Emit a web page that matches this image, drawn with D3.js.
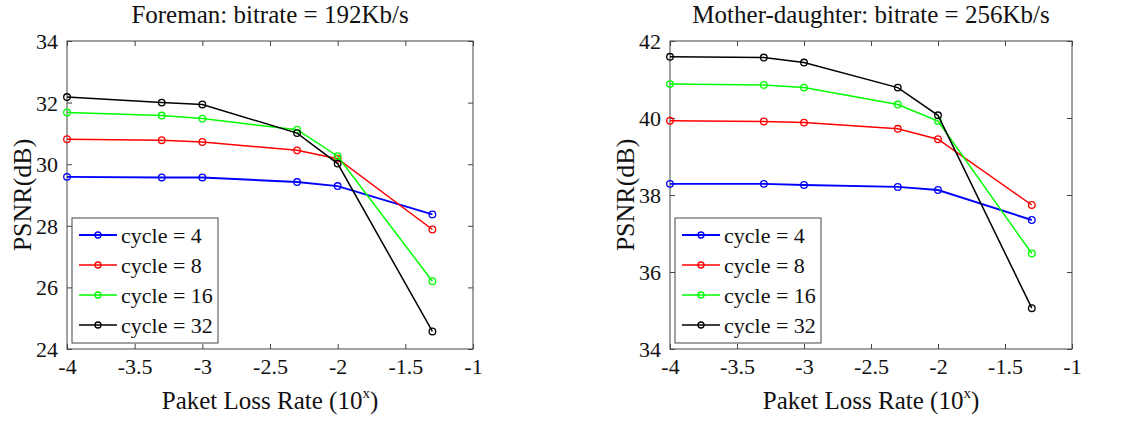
<!DOCTYPE html>
<html><head><meta charset="utf-8">
<script src="https://cdn.jsdelivr.net/npm/d3@7"></script>
<style>
html,body{margin:0;padding:0;background:#fff;}
svg text{font-family:"Liberation Serif","Times New Roman",serif !important;fill:#111;}
</style></head>
<body><svg id="c" width="1125" height="423"></svg>
<script>
const lossRates = [-4, -3.3, -3, -2.3, -2, -1.3];
const xTicks = [-4, -3.5, -3, -2.5, -2, -1.5, -1];
const seriesNames = ["cycle = 4", "cycle = 8", "cycle = 16", "cycle = 32"];
const seriesColors = ["#0000ff", "#ff0000", "#00ff00", "#000000"];

const foremanTitle = "Foreman: bitrate = 192Kb/s";
const foremanYTicks = [24, 26, 28, 30, 32, 34];
const foremanCycle4  = [29.59, 29.57, 29.57, 29.42, 29.29, 28.37];
const foremanCycle8  = [30.81, 30.78, 30.72, 30.45, 30.18, 27.88];
const foremanCycle16 = [31.68, 31.58, 31.48, 31.12, 30.26, 26.20];
const foremanCycle32 = [32.18, 32.00, 31.94, 31.01, 30.02, 24.57];

const motherTitle = "Mother-daughter: bitrate = 256Kb/s";
const motherYTicks = [34, 36, 38, 40, 42];
const motherCycle4  = [38.29, 38.29, 38.26, 38.21, 38.13, 37.35];
const motherCycle8  = [39.93, 39.91, 39.88, 39.72, 39.45, 37.74];
const motherCycle16 = [40.88, 40.86, 40.79, 40.35, 39.92, 36.48];
const motherCycle32 = [41.59, 41.57, 41.44, 40.79, 40.07, 35.06];

const svg = d3.select("#c");
const serif = "'Liberation Serif', 'Times New Roman', serif";

function panel(cfg) {
  const {left, right, top, bottom, yDomain, yTicks, title, series} = cfg;
  const x = d3.scaleLinear().domain([-4, -1]).range([left, right]);
  const y = d3.scaleLinear().domain(yDomain).range([bottom, top]);
  const g = svg.append("g");
  const tl = 5;
  const axisColor = "#444";

  g.append("rect").attr("x", left).attr("y", top).attr("width", right - left).attr("height", bottom - top)
    .attr("fill", "none").attr("stroke", axisColor).attr("stroke-width", 1);

  const xb = g.append("g").attr("transform", `translate(0,${bottom})`)
    .call(d3.axisBottom(x).tickValues(xTicks).tickSize(-tl).tickPadding(8).tickFormat(d => String(d)));
  const xt = g.append("g").attr("transform", `translate(0,${top})`)
    .call(d3.axisTop(x).tickValues(xTicks).tickSize(-tl).tickFormat(""));
  const yl = g.append("g").attr("transform", `translate(${left},0)`)
    .call(d3.axisLeft(y).tickValues(yTicks).tickSize(-tl).tickPadding(9).tickFormat(d => String(d)));
  const yr = g.append("g").attr("transform", `translate(${right},0)`)
    .call(d3.axisRight(y).tickValues(yTicks).tickSize(-tl).tickFormat(""));
  [xb, xt, yl, yr].forEach(a => {
    a.attr("font-family", null).attr("font-size", null);
    a.select(".domain").remove();
    a.selectAll(".tick line").attr("stroke", axisColor);
    a.selectAll(".tick text").style("font-family", serif).style("font-size", "22px").attr("fill", "#111");
  });
  yl.selectAll(".tick text").attr("dy", "0.34em");
  xb.selectAll(".tick text").attr("dy", "0.75em");

  const line = d3.line().x((d, i) => x(lossRates[i])).y(d => y(d));
  series.forEach((s, k) => {
    g.append("path").datum(s).attr("d", line).attr("fill", "none")
      .attr("stroke", seriesColors[k]).attr("stroke-width", k === 0 ? 1.9 : 1.5);
    g.selectAll(null).data(s).enter().append("circle")
      .attr("cx", (d, i) => x(lossRates[i])).attr("cy", d => y(d)).attr("r", 3.3)
      .attr("fill", "none").attr("stroke", seriesColors[k]).attr("stroke-width", 1.3);
  });

  g.append("text").attr("x", (left + right) / 2).attr("y", 23).attr("text-anchor", "middle")
    .style("font-size", "25px").text(title);

  const xl = g.append("text").attr("x", (left + right) / 2).attr("y", 409).attr("text-anchor", "middle")
    .style("font-size", "25px");
  xl.append("tspan").text("Paket Loss Rate (10");
  xl.append("tspan").style("font-size", "15px").attr("dy", -11).text("x");
  xl.append("tspan").attr("dy", 11).text(")");

  g.append("text").attr("transform", `translate(${left - 45},${(top + bottom) / 2}) rotate(-90)`)
    .attr("text-anchor", "middle").attr("dy", "0.35em").style("font-size", "26px").text("PSNR(dB)");

  const lx = left + 5, ly = 218, lw = 146, lh = 125;
  const lg = g.append("g");
  lg.append("rect").attr("x", lx).attr("y", ly).attr("width", lw).attr("height", lh)
    .attr("fill", "#fff").attr("stroke", axisColor).attr("stroke-width", 1);
  seriesNames.forEach((n, k) => {
    const yy = ly + 17 + k * 30;
    lg.append("line").attr("x1", lx + 7).attr("x2", lx + 45).attr("y1", yy).attr("y2", yy)
      .attr("stroke", seriesColors[k]).attr("stroke-width", k === 0 ? 1.9 : 1.5);
    lg.append("circle").attr("cx", lx + 26).attr("cy", yy).attr("r", 3)
      .attr("fill", "none").attr("stroke", seriesColors[k]).attr("stroke-width", 1.3);
    lg.append("text").attr("x", lx + 49).attr("y", yy).attr("dy", "0.35em")
      .style("font-size", "22px").text(n);
  });
}

panel({left: 67, right: 473, top: 41, bottom: 349, yDomain: [24, 34], yTicks: foremanYTicks,
  title: foremanTitle, series: [foremanCycle4, foremanCycle8, foremanCycle16, foremanCycle32]});
panel({left: 670, right: 1072, top: 41, bottom: 349, yDomain: [34, 42], yTicks: motherYTicks,
  title: motherTitle, series: [motherCycle4, motherCycle8, motherCycle16, motherCycle32]});
</script></body></html>
